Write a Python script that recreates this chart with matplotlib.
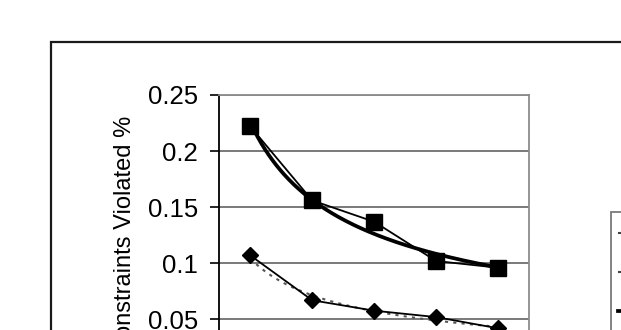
import matplotlib.pyplot as plt
import numpy as np
from matplotlib.lines import Line2D
from matplotlib.patches import Rectangle

# Data
categories = [1, 2, 3, 4, 5]
squares = [0.222, 0.156, 0.137, 0.102, 0.096]
diamonds = [0.107, 0.067, 0.0577, 0.052, 0.042]
y_ticks = [0.05, 0.1, 0.15, 0.2, 0.25]
legend_labels = ['Series1', 'Power (Series1)', 'Power (Series2)']

plt.rcParams['font.family'] = ['Liberation Sans', 'DejaVu Sans']

W, H = 621, 330
fig = plt.figure(figsize=(W / 100, H / 100), dpi=100)

# outer chart frame (runs off the right and bottom edge)
fig.patches.append(Rectangle((51 / W, -0.2), 1.2, 1 - 41.7 / H + 0.2,
                             transform=fig.transFigure, fill=False,
                             edgecolor='#1a1a1a', linewidth=1.6))

left, right = 219.3 / W, 529 / W
top, zero = 1 - 95 / H, 1 - 375.4 / H
ax = fig.add_axes([left, zero, right - left, top - zero])

x = np.arange(len(categories))


def power_fit(vals):
    b, ln_a = np.polyfit(np.log(categories), np.log(vals), 1)
    xs = np.linspace(categories[0], categories[-1], 200)
    return xs - 1, np.exp(ln_a) * xs ** b


# trend lines
tx, ty = power_fit(squares)
ax.plot(tx, ty, color='black', lw=2.7, zorder=3)
dx, dy = power_fit(diamonds)
ax.plot(dx, dy, color='#555555', lw=1.5, ls=(0, (1.5, 2.5)), zorder=3)

# series
ax.plot(x, squares, color='black', lw=1.3, marker='s', ms=11, zorder=4)
ax.plot(x, diamonds, color='black', lw=1.3, marker='D', ms=8.5, zorder=4)

ax.set_xlim(-0.5, len(categories) - 0.5)
ax.set_ylim(0, 0.25)
ax.set_yticks(y_ticks)
ax.set_yticklabels(['0.05', '0.1', '0.15', '0.2', '0.25'])
ax.set_xticks([])
ax.tick_params(axis='y', direction='out', length=6.5, width=1.2,
               pad=9, labelsize=18.5, colors='black')
ax.yaxis.grid(True, color='#6e6e6e', lw=1.3)
ax.set_axisbelow(True)
for s in ['top', 'right']:
    ax.spines[s].set_color('#8c8c8c')
    ax.spines[s].set_linewidth(1.3)
ax.spines['left'].set_color('black')
ax.spines['left'].set_linewidth(1.3)
ax.set_ylabel('Constraints Violated %', fontsize=17, labelpad=8)

# legend box (mostly off the right edge)
fig.patches.append(Rectangle((611 / W, -0.2), 1, 1 - 211.7 / H + 0.2,
                             transform=fig.transFigure, fill=True,
                             facecolor='white', edgecolor='#7a7a7a',
                             linewidth=1.3, zorder=5))
styles = [dict(color='#444444', lw=1.5, ls=(0, (1.5, 4))),
          dict(color='#444444', lw=1.5, ls=(0, (1.5, 4))),
          dict(color='black', lw=2.7)]
for i, (lab, st) in enumerate(zip(legend_labels, styles)):
    yy = 1 - (233 + 39 * i) / H
    fig.add_artist(Line2D([617.5 / W, 650 / W], [yy, yy],
                          transform=fig.transFigure, zorder=6, **st))
    fig.text(655 / W, yy, lab, fontsize=12, va='center')

fig.savefig('out.png', dpi=100)
